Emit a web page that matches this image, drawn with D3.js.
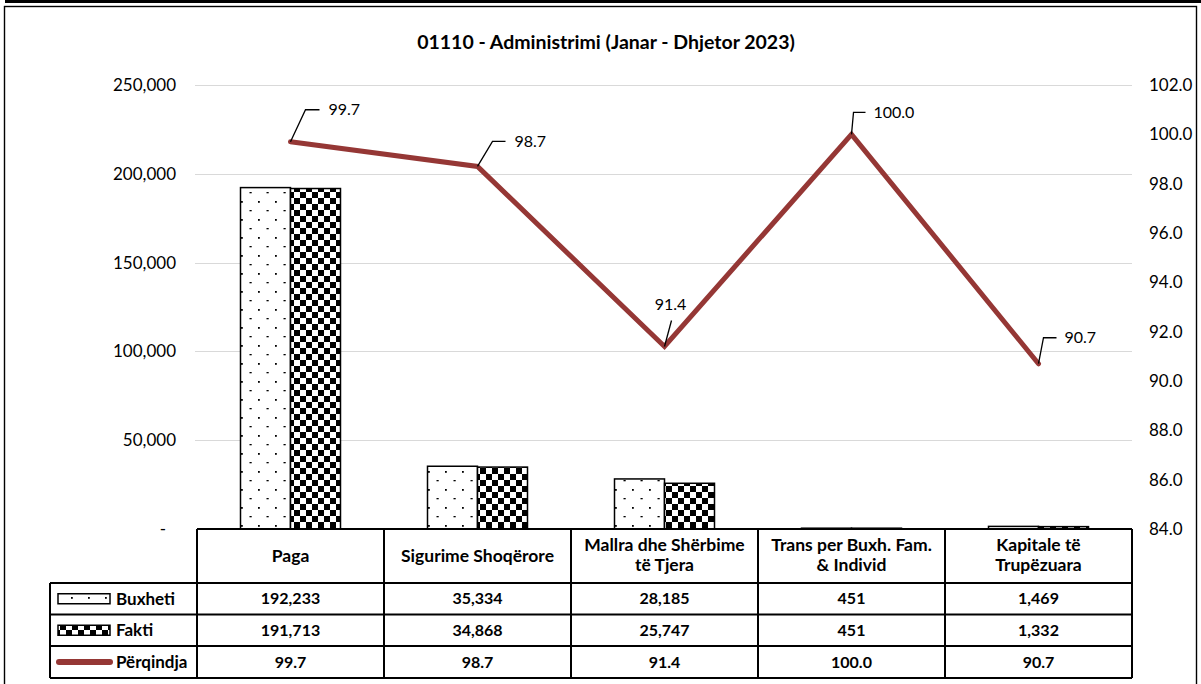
<!DOCTYPE html>
<html><head><meta charset="utf-8">
<script src="https://cdn.jsdelivr.net/npm/d3@7"></script>
<style>body{margin:0;background:#fff}svg{display:block}text{font-family:Lato,"Open Sans",sans-serif}</style>
</head><body>
<svg id="c" width="1201" height="684"></svg>
<script>
const title = "01110 - Administrimi (Janar - Dhjetor 2023)";
const categories = [["Paga"],["Sigurime Shoqërore"],["Mallra dhe Shërbime","të Tjera"],["Trans per Buxh. Fam.","& Individ"],["Kapitale të","Trupëzuara"]];
const buxheti = [192233, 35334, 28185, 451, 1469];
const fakti = [191713, 34868, 25747, 451, 1332];
const perqindja = [99.7, 98.7, 91.4, 100.0, 90.7];
const seriesNames = ["Buxheti", "Fakti", "Përqindja"];
const leftTicks = [0, 50000, 100000, 150000, 200000, 250000];
const rightTicks = [84, 86, 88, 90, 92, 94, 96, 98, 100, 102];

// label leader layout (dx, dy to corner; horizontal length; text offset)
const labelLayout = [
  {lx:15, ly:-32, hx:14, tx:38, anchor:"start"},
  {lx:15, ly:-25, hx:13, tx:37, anchor:"start"},
  {lx:7, ly:-26, hx:0, tx:6, ty:-42, anchor:"middle"},
  {lx:2, ly:-22, hx:12, tx:22, anchor:"start"},
  {lx:5, ly:-26, hx:13, tx:26, anchor:"start"}
];

const svg = d3.select("#c");
const lineColor = "#953735";
const L = 197, R = 1132, T = 85, B = 529;

// patterns
const defs = svg.append("defs");
const dots = defs.append("pattern").attr("id","dots").attr("patternUnits","userSpaceOnUse").attr("width",17).attr("height",18);
dots.append("rect").attr("width",17).attr("height",18).attr("fill","#fff");
dots.append("rect").attr("x",3).attr("y",3).attr("width",1.8).attr("height",1.8).attr("fill","#000");
dots.append("rect").attr("x",11.5).attr("y",12).attr("width",2.2).attr("height",1.3).attr("fill","#000");
const chk = defs.append("pattern").attr("id","chk").attr("patternUnits","userSpaceOnUse").attr("width",12).attr("height",12);
chk.append("rect").attr("width",12).attr("height",12).attr("fill","#fff");
chk.append("rect").attr("width",6).attr("height",6).attr("fill","#000");
chk.append("rect").attr("x",6).attr("y",6).attr("width",6).attr("height",6).attr("fill","#000");

// top strip and frame
svg.append("line").attr("x1",5).attr("x2",1201).attr("y1",1.5).attr("y2",1.5).attr("stroke","#000").attr("stroke-width",3);
svg.append("rect").attr("x",4.5).attr("y",6.5).attr("width",1192).attr("height",700).attr("fill","none").attr("stroke","#000").attr("stroke-width",1.4);

svg.append("text").attr("x",606).attr("y",49).attr("text-anchor","middle").attr("font-weight","bold").attr("font-size",19.5).attr("fill","#000").text(title);

const x = d3.scaleBand().domain(d3.range(categories.length)).range([L, R]);
const x1 = d3.scaleBand().domain([0,1]).range([0,100]);
const y = d3.scaleLinear().domain([0,250000]).range([B, T]);
const y2 = d3.scaleLinear().domain([84,102]).range([B, T]);
const cx = i => x(i) + x.bandwidth()/2;

// grid
svg.append("g").selectAll("line").data(leftTicks.filter(d=>d>0)).join("line")
  .attr("x1",L-2).attr("x2",R).attr("y1",d=>Math.round(y(d))+0.5).attr("y2",d=>Math.round(y(d))+0.5)
  .attr("stroke","#d9d9d9").attr("stroke-width",1.2);

// axes
const ax = svg.append("g").attr("transform",`translate(${L},0)`)
  .call(d3.axisLeft(y).tickValues(leftTicks).tickSize(0).tickPadding(21)
    .tickFormat(d => d===0 ? "-" : d3.format(",")(d)));
ax.select(".domain").remove();
ax.selectAll("text").attr("font-size",17).attr("fill","#000").attr("font-family","Lato")
  .attr("dx", d => d===0 ? -10 : 0);
const ax2 = svg.append("g").attr("transform",`translate(${R},0)`)
  .call(d3.axisRight(y2).tickValues(rightTicks).tickSize(0).tickPadding(17).tickFormat(d3.format(".1f")));
ax2.select(".domain").remove();
ax2.selectAll("text").attr("font-size",17).attr("fill","#000").attr("font-family","Lato");

// bars
const bw = 50;
const barG = svg.append("g");
[[buxheti,"url(#dots)"],[fakti,"url(#chk)"]].forEach(([vals,fill],s)=>{
  barG.append("g").selectAll("rect").data(vals).join("rect")
    .attr("x",(d,i)=>cx(i)-bw + x1(s))
    .attr("width",bw)
    .attr("y",d=>y(d))
    .attr("height",d=>B-y(d))
    .attr("fill",fill).attr("stroke","#000").attr("stroke-width",1.5);
});

// line
svg.append("path").datum(perqindja)
  .attr("d", d3.line().x((d,i)=>cx(i)).y(d=>y2(d)))
  .attr("fill","none").attr("stroke",lineColor).attr("stroke-width",5).attr("stroke-linejoin","miter").attr("stroke-linecap","round");

// labels with leaders
const lg = svg.append("g");
perqindja.forEach((v,i)=>{
  const px = cx(i), py = y2(v), o = labelLayout[i];
  const pts = [[px,py],[px+o.lx,py+o.ly]];
  if (o.hx) pts.push([px+o.lx+o.hx, py+o.ly]);
  lg.append("path").attr("d", d3.line()(pts)).attr("fill","none").attr("stroke","#000").attr("stroke-width",1.3);
  lg.append("text").attr("x", px+o.tx).attr("y", py + (o.ty!==undefined?o.ty:o.ly)).attr("dy","0.35em")
    .attr("text-anchor",o.anchor).attr("font-size",16).attr("fill","#000").text(d3.format(".1f")(v));
});

// data table
const rowsY = [529, 583, 614.5, 646, 678];
const tg = svg.append("g").attr("stroke","#000").attr("stroke-width",2);
tg.append("line").attr("x1",L).attr("x2",R).attr("y1",rowsY[0]).attr("y2",rowsY[0]);
rowsY.slice(1).forEach(yy=> tg.append("line").attr("x1",50).attr("x2",R).attr("y1",yy).attr("y2",yy));
tg.append("line").attr("x1",50).attr("x2",50).attr("y1",rowsY[1]).attr("y2",rowsY[4]);
d3.range(categories.length+1).forEach(i=>{
  const xx = i<categories.length ? x(i) : R;
  tg.append("line").attr("x1",xx).attr("x2",xx).attr("y1",rowsY[0]).attr("y2",rowsY[4]);
});
const txt = svg.append("g").attr("font-weight","bold").attr("font-size",16).attr("text-anchor","middle").attr("fill","#000");
categories.forEach((lines,i)=>{
  const t = txt.append("text").attr("x",cx(i)).attr("font-size",17.5);
  if (lines.length===1) t.append("tspan").attr("x",cx(i)).attr("y",556).attr("dy","0.35em").text(lines[0]);
  else lines.forEach((ln,k)=> t.append("tspan").attr("x",cx(i)).attr("y",545+k*20).attr("dy","0.35em").text(ln));
});
const rowMid = k => (rowsY[k+1]+rowsY[k+2])/2;
[buxheti,fakti].forEach((vals,k)=>{
  vals.forEach((v,i)=> txt.append("text").attr("x",cx(i)).attr("y",rowMid(k)).attr("dy","0.35em").text(d3.format(",")(v)));
});
perqindja.forEach((v,i)=> txt.append("text").attr("x",cx(i)).attr("y",rowMid(2)).attr("dy","0.35em").text(d3.format(".1f")(v)));

// legend keys
seriesNames.forEach((n,k)=>{
  const my = rowMid(k);
  if (k<2) svg.append("rect").attr("x",58).attr("y",my-5).attr("width",52).attr("height",10)
      .attr("fill",k===0?"url(#dots)":"url(#chk)").attr("stroke","#000").attr("stroke-width",1.5);
  else svg.append("line").attr("x1",59).attr("x2",110).attr("y1",my).attr("y2",my)
      .attr("stroke",lineColor).attr("stroke-width",6).attr("stroke-linecap","round");
  svg.append("text").attr("x",116).attr("y",my).attr("dy","0.35em").attr("font-weight","bold").attr("font-size",17).attr("fill","#000").text(n);
});
</script>
</body></html>
